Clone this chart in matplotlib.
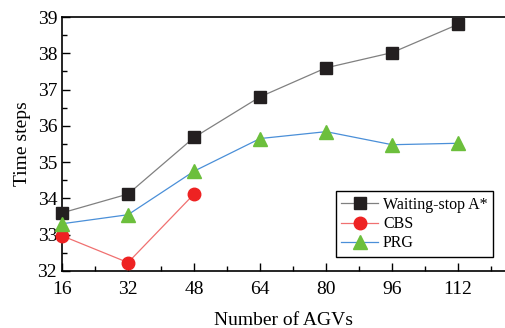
import matplotlib
matplotlib.use("Agg")
from matplotlib import pyplot as plt
from matplotlib.ticker import MultipleLocator

agvs = [16, 32, 48, 64, 80, 96, 112]
waiting_stop = [33.6, 34.12, 35.68, 36.8, 37.6, 38.02, 38.8]
cbs_agvs = [16, 32, 48]
cbs = [32.97, 32.23, 34.12]
prg = [33.3, 33.55, 34.75, 35.65, 35.84, 35.48, 35.52]

plt.rcParams['font.family'] = ['Liberation Serif', 'DejaVu Serif']

fig = plt.figure(figsize=(5.06, 3.28), dpi=100)
ax = fig.add_axes([0.1225, 0.174, 0.8775, 0.774])

ax.plot(agvs, waiting_stop, color='#808080', lw=0.9, marker='s', ms=8,
        mfc='#231f20', mec='#231f20', label='Waiting-stop A*', clip_on=False, zorder=3)
ax.plot(cbs_agvs, cbs, color='#f07070', lw=0.9, marker='o', ms=9,
        mfc='#ee2222', mec='#ee2222', label='CBS', clip_on=False, zorder=3)
ax.plot(agvs, prg, color='#4a8fd8', lw=0.9, marker='^', ms=10,
        mfc='#6cbf3c', mec='#6cbf3c', label='PRG', clip_on=False, zorder=3)

ax.set_xlim(16, 123.6)
ax.set_ylim(32, 39)
ax.xaxis.set_major_locator(MultipleLocator(16))
ax.xaxis.set_minor_locator(MultipleLocator(8))
ax.yaxis.set_major_locator(MultipleLocator(1))
ax.yaxis.set_minor_locator(MultipleLocator(0.5))
ax.tick_params(which='both', direction='in', top=False, right=False, labelsize=14, width=1)
ax.tick_params(which='major', length=6)
ax.tick_params(which='minor', length=3.5)
ax.tick_params(axis='x', pad=7)
ax.spines['right'].set_visible(False)
for s in ['left', 'bottom', 'top']:
    ax.spines[s].set_linewidth(1.2)

ax.set_xlabel('Number of AGVs', fontsize=14, labelpad=10)
ax.set_ylabel('Time steps', fontsize=14, labelpad=5)

leg = ax.legend(loc='lower right', bbox_to_anchor=(0.971, 0.055), borderaxespad=0,
                fontsize=11.5, fancybox=False, edgecolor='black', framealpha=1,
                handlelength=2.3, borderpad=0.35, labelspacing=0.2, handletextpad=0.3)
leg.get_frame().set_linewidth(1.0)

fig.savefig('out.png', dpi=100)
